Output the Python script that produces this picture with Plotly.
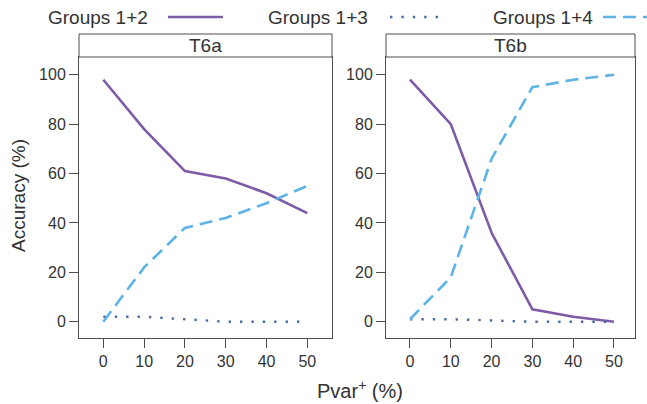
import plotly.graph_objects as go

# ---- data ----
pvar = [0, 10, 20, 30, 40, 50]
panels = ["T6a", "T6b"]
series_names = ["Groups 1+2", "Groups 1+3", "Groups 1+4"]

t6a_g12 = [98, 78, 61, 58, 52, 44]
t6a_g13 = [2, 2, 1, 0, 0, 0]
t6a_g14 = [0, 22, 38, 42, 48, 55]

t6b_g12 = [98, 80, 36, 5, 2, 0]
t6b_g13 = [1, 1, 0.5, 0, 0, 0]
t6b_g14 = [1, 18, 66, 95, 98, 100]

y_ticks = [0, 20, 40, 60, 80, 100]
x_ticks = [0, 10, 20, 30, 40, 50]

# ---- styles ----
W, H = 647, 404
FONT = "Liberation Sans, Arial, Helvetica, sans-serif"
TXT = "#333333"
AX = "#4d4d4d"
styles = {
    "Groups 1+2": dict(color="#7D5BA6", width=2.6, dash="solid"),
    "Groups 1+3": dict(color="#4A6FA5", width=2.4, dash="2.4px,9px"),
    "Groups 1+4": dict(color="#5DB3E5", width=2.6, dash="13px,7px"),
}

def px(x):
    return x / W

def py(y):
    return (H - y) / H

fig = go.Figure()

data = {
    "T6a": [t6a_g12, t6a_g13, t6a_g14],
    "T6b": [t6b_g12, t6b_g13, t6b_g14],
}
for i, p in enumerate(panels):
    xa = "x" if i == 0 else "x2"
    ya = "y" if i == 0 else "y2"
    for name, vals in zip(series_names, data[p]):
        fig.add_trace(go.Scatter(
            x=pvar, y=vals, mode="lines", name=name, showlegend=False,
            line=styles[name], xaxis=xa, yaxis=ya, hoverinfo="skip"))

plot_top, plot_bot = 57, 338
strip_top = 34
dom_y = [py(plot_bot), py(plot_top)]
left_dom = [px(79), px(332)]
right_dom = [px(386), px(635)]

common_x = dict(
    tickmode="array", tickvals=x_ticks, ticks="outside", ticklen=9,
    tickcolor=AX, showline=True, linecolor=AX, linewidth=1, mirror=True,
    showgrid=False, zeroline=False,
    tickfont=dict(family=FONT, size=16, color=TXT),
)
common_y = dict(
    tickmode="array", tickvals=y_ticks, ticks="outside", ticklen=9,
    tickcolor=AX, showline=True, linecolor=AX, linewidth=1, mirror=True,
    showgrid=False, zeroline=False, range=[-6.6, 107.2], domain=dom_y,
    tickfont=dict(family=FONT, size=16, color=TXT),
)

fig.update_layout(
    width=W, height=H,
    margin=dict(l=0, r=0, t=0, b=0),
    paper_bgcolor="white", plot_bgcolor="white",
    xaxis=dict(domain=left_dom, range=[-5.96, 56.05], anchor="y", **common_x),
    xaxis2=dict(domain=right_dom, range=[-5.88, 55.15], anchor="y2", **common_x),
    yaxis=dict(anchor="x", **common_y),
    yaxis2=dict(anchor="x2", **common_y),
    showlegend=False,
)

shapes = []
annotations = []
# strips
for p, dom in zip(panels, [left_dom, right_dom]):
    shapes.append(dict(type="rect", xref="paper", yref="paper",
                       x0=dom[0], x1=dom[1], y0=py(plot_top), y1=py(strip_top),
                       line=dict(color=AX, width=1), fillcolor="white"))
    annotations.append(dict(text=p, xref="paper", yref="paper",
                            x=(dom[0] + dom[1]) / 2, y=py(45.5),
                            xanchor="center", yanchor="middle", showarrow=False,
                            font=dict(family=FONT, size=19, color=TXT)))

# legend (manual, text left of line)
leg_y = 17
leg_items = [
    ("Groups 1+2", 150, 168, 223),
    ("Groups 1+3", 370, 390, 441),
    ("Groups 1+4", 595, 603, 660),
]
for name, tx, l0, l1 in leg_items:
    annotations.append(dict(text=name, xref="paper", yref="paper",
                            x=px(tx), y=py(leg_y), xanchor="right", yanchor="middle",
                            showarrow=False,
                            font=dict(family=FONT, size=19, color=TXT)))
    st = styles[name]
    shapes.append(dict(type="line", xref="paper", yref="paper",
                       x0=px(l0), x1=px(l1), y0=py(leg_y), y1=py(leg_y),
                       line=dict(color=st["color"], width=st["width"], dash=st["dash"])))

# axis titles
annotations.append(dict(text="Pvar<sup>+</sup> (%)", xref="paper", yref="paper",
                        x=px(360), y=py(389), xanchor="center", yanchor="middle",
                        showarrow=False, font=dict(family=FONT, size=20, color=TXT)))
annotations.append(dict(text="Accuracy (%)", xref="paper", yref="paper",
                        x=px(18), y=py(196), xanchor="center", yanchor="middle",
                        textangle=-90, showarrow=False,
                        font=dict(family=FONT, size=19, color=TXT)))

fig.update_layout(shapes=shapes, annotations=annotations)
fig.write_html("out.html")
